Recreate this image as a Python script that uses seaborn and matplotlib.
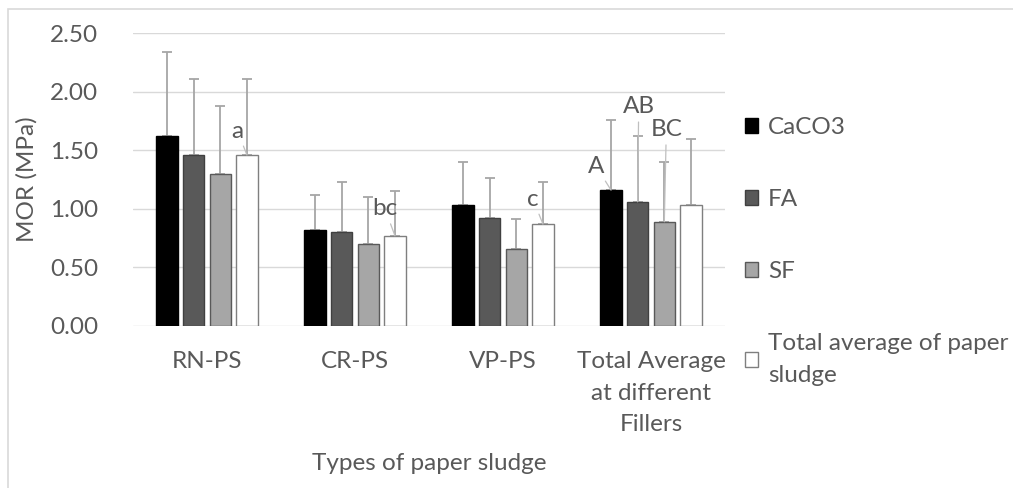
import matplotlib
matplotlib.use("Agg")
import matplotlib.pyplot as plt
from matplotlib.patches import Patch, Rectangle
import seaborn as sns
import pandas as pd
import numpy as np

categories = ["RN-PS", "CR-PS", "VP-PS", "Total Average\nat different\nFillers"]
fillers = ["CaCO3", "FA", "SF", "Total average of paper\nsludge"]
mor_caco3 = [1.62, 0.82, 1.03, 1.16]
mor_fa = [1.46, 0.80, 0.92, 1.06]
mor_sf = [1.30, 0.70, 0.66, 0.89]
mor_total = [1.46, 0.77, 0.87, 1.03]
err_top_caco3 = [2.34, 1.12, 1.40, 1.76]
err_top_fa = [2.11, 1.23, 1.26, 1.62]
err_top_sf = [1.88, 1.10, 0.91, 1.40]
err_top_total = [2.11, 1.15, 1.23, 1.60]
# letter annotations: (category index, filler index, text)
letters = [(0, 3, "a"), (1, 3, "bc"), (2, 3, "c"), (3, 0, "A"), (3, 1, "AB"), (3, 2, "BC")]
letter_offsets = [(-9.5, 24), (-10, 27), (-10, 25), (-15, 24), (1, 95), (2, 92)]

values = [mor_caco3, mor_fa, mor_sf, mor_total]
err_tops = [err_top_caco3, err_top_fa, err_top_sf, err_top_total]

rows = []
for f, vals in zip(fillers, values):
    for c, v in zip(categories, vals):
        rows.append({"cat": c, "filler": f, "MOR": v})
df = pd.DataFrame(rows)

sns.set_theme(style="white")
FONT = ["Lato", "DejaVu Sans"]
plt.rcParams["font.family"] = FONT
TXT = "#595959"
FS = 17.5

fig = plt.figure(figsize=(10.13, 4.88), dpi=100)
ax = fig.add_axes([133 / 1013, 1 - 326 / 488, (725 - 133) / 1013, (326 - 33.2) / 488])

colors = ["#000000", "#595959", "#a6a6a6", "#ffffff"]
edges = ["#000000", "#404040", "#595959", "#7f7f7f"]
sns.barplot(data=df, x="cat", y="MOR", hue="filler", hue_order=fillers, order=categories,
            palette=colors, width=0.72, gap=0.2, legend=False, ax=ax, zorder=3)

n = len(categories)
bars = ax.patches
for hi in range(len(fillers)):
    for ci in range(n):
        p = bars[hi * n + ci]
        p.set_edgecolor(edges[hi])
        p.set_linewidth(1.0)
        xc = p.get_x() + p.get_width() / 2
        top = p.get_height()
        ax.errorbar([xc], [top], yerr=[[0], [err_tops[hi][ci] - top]], fmt="none",
                    ecolor="#a6a6a6", elinewidth=1.3, capsize=3.5, capthick=1.3, zorder=2)

for (ci, hi, t), (dx, dy) in zip(letters, letter_offsets):
    p = bars[hi * n + ci]
    xc = p.get_x() + p.get_width() / 2
    ax.annotate(t, xy=(xc, p.get_height()), xytext=(dx, dy), textcoords="offset pixels",
                ha="center", va="center", fontsize=FS, color=TXT,
                arrowprops=dict(arrowstyle="-", color="#bfbfbf", lw=0.9, shrinkA=1, shrinkB=0),
                zorder=5)

ax.set_ylim(0, 2.5)
ax.set_yticks(np.arange(0, 2.51, 0.5))
ax.set_yticklabels([f"{v:.2f}" for v in np.arange(0, 2.51, 0.5)])
ax.set_xlim(-0.5, n - 0.5)
ax.grid(axis="y", color="#d9d9d9", lw=1, zorder=0)
ax.set_axisbelow(True)
for s in ax.spines.values():
    s.set_visible(False)
ax.tick_params(axis="both", length=0, labelsize=FS, labelcolor=TXT)
ax.tick_params(axis="y", pad=25)
ax.tick_params(axis="x", pad=18)
for lab in ax.get_xticklabels():
    lab.set_linespacing(1.62)
ax.set_xlabel("Types of paper sludge", fontsize=FS, color=TXT, labelpad=13)
ax.set_ylabel("MOR (MPa)", fontsize=FS, color=TXT, labelpad=9)

handles = [Patch(facecolor=c, edgecolor=e, lw=1) for c, e in zip(colors, edges)]
leg = fig.legend(handles, fillers, loc="upper left", bbox_to_anchor=(745 / 1013, 1 - 117 / 488),
                 frameon=False, fontsize=FS, handlelength=0.55, handleheight=0.55,
                 handletextpad=0.4, labelspacing=2.1, borderpad=0, borderaxespad=0)
for t in leg.get_texts():
    t.set_color(TXT)
    t.set_linespacing(1.62)

fig.add_artist(Rectangle((8 / 1013, -0.1), 1.2, 1 - 9 / 488 + 0.1, transform=fig.transFigure,
                         fill=False, ec="#d9d9d9", lw=1.2))

fig.savefig("out.png", dpi=100)
